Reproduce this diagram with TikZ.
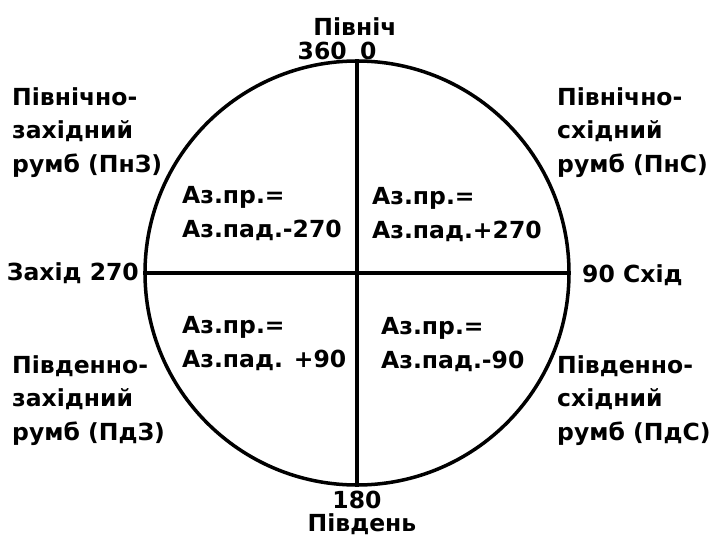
\documentclass[tikz,border=0pt]{standalone}
\usepackage{fontspec}
\setmainfont{DejaVu Sans}
\usetikzlibrary{positioning}
\tikzset{every node/.style={font=\bfseries\fontsize{23.5}{33.5}\selectfont,inner sep=0pt},
 lbl/.style={align=left,anchor=base west},
 axis/.style={line width=3.5pt}}

\begin{document}
\begin{tikzpicture}[x=1pt,y=-1pt]
\useasboundingbox (0,0) rectangle (718,535);
\node[circle,draw,line width=3.5pt,minimum size=424pt] (rose) at (357,273) {};
\draw[axis] (rose.north)--(rose.south);
\draw[axis] (rose.west)--(rose.east);
% cardinal points
\node[anchor=base] (north) at (355,36) {Північ};
\node[anchor=base east] (deg360) at (347,60) {360};
\node[anchor=base west] (deg0) at (360,60) {0};
\node[anchor=base] (deg180) at (357,508) {180};
\node[anchor=base] (south) at (362,531) {Південь};
\node[anchor=base east] (west) at (139,280) {Захід 270};
\node[anchor=base west] (east) at (582,282) {90 Схід};
% rumbs (anchored at the last line)
\foreach \x/\y/\txt in {12/172/{Північно-\\західний\\румб (ПнЗ)},
 557/172/{Північно-\\східний\\румб (ПнС)},
 12/440/{Південно-\\західний\\румб (ПдЗ)},
 557/440/{Південно-\\східний\\румб (ПдС)}}
 {\node[lbl] at (\x,\y) {\txt};}
% azimuths
\foreach \x/\y/\txt in {182/237/{Аз.пр.=\\Аз.пад.-270},
 372/238/{Аз.пр.=\\Аз.пад.+270},
 182/367/{Аз.пр.=\\Аз.пад. +90},
 381/368/{Аз.пр.=\\Аз.пад.-90}}
 {\node[lbl] at (\x,\y) {\txt};}
\end{tikzpicture}
\end{document}
